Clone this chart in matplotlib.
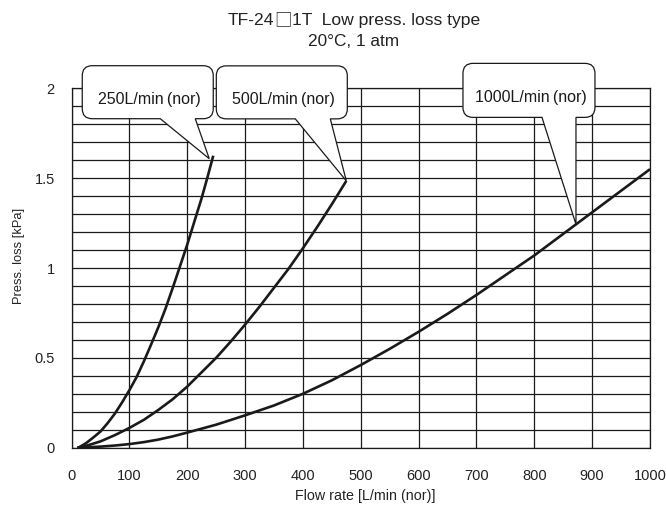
import numpy as np
import matplotlib
matplotlib.use("Agg")
import matplotlib.pyplot as plt
import matplotlib.transforms as mtransforms
from matplotlib.path import Path
from matplotlib.patches import PathPatch
from matplotlib.offsetbox import TextArea, HPacker, AnnotationBbox

# values
flow_250 = [12, 25, 37, 50, 62, 75, 87, 100, 112, 125, 137, 150, 162, 175,
            187, 200, 212, 225, 235, 245]
press_250 = [0, 0.025, 0.055, 0.09, 0.135, 0.19, 0.25, 0.32, 0.39, 0.48, 0.57,
             0.67, 0.77, 0.89, 1.005, 1.13, 1.255, 1.39, 1.505, 1.625]

flow_500 = [10, 25, 50, 75, 100, 125, 150, 175, 200, 225, 250, 275, 300, 325,
            350, 375, 400, 425, 450, 475]
press_500 = [0, 0.01, 0.035, 0.07, 0.11, 0.155, 0.21, 0.27, 0.34, 0.42, 0.50,
             0.59, 0.685, 0.785, 0.89, 0.995, 1.11, 1.23, 1.355, 1.485]

flow_1000 = [10, 25, 50, 75, 100, 125, 150, 175, 200, 250, 300, 350, 400, 450,
             500, 550, 600, 650, 700, 750, 800, 850, 900, 950, 1000]
press_1000 = [0, 0.002, 0.006, 0.012, 0.02, 0.031, 0.045, 0.063, 0.084, 0.128,
              0.18, 0.235, 0.30, 0.375, 0.46, 0.55, 0.645, 0.745, 0.85, 0.96,
              1.07, 1.19, 1.31, 1.43, 1.55]

labels = ["250L/min\u2009(nor)", "500L/min\u2009(nor)", "1000L/min\u2009(nor)"]
label_flow = [245, 475, 872]   # where each callout points

x_ticks = list(range(0, 1001, 100))
y_ticks = [0, 0.5, 1, 1.5, 2]

FONT = ["Liberation Sans", "DejaVu Sans"]
plt.rcParams["font.family"] = FONT
INK = "#1a1a1a"
GREY = "#222222"

# callout shapes in pixels relative to the pointed point:
# left, right, bottom, top, pointer base left, pointer base right, tip dx, tip dy
shapes = [
    (-131, 0, 37, 90, -53, -18, -4, -3),
    (-130, 1, 62, 115, -51, -16, 0, 0),
    (-113, 19, 107, 161, -34, 0, 0, 0),
]


def callout(ax, x, y, shape, text):
    l, r, b, t, b0, b1, tx, ty = shape
    c = 10  # corner radius
    verts = [(b1, b), (tx, ty), (b0, b), (l + c, b), (l, b), (l, b + c),
             (l, t - c), (l, t), (l + c, t), (r - c, t), (r, t), (r, t - c),
             (r, b + c), (r, b), (r - c, b), (b1, b)]
    codes = [Path.MOVETO, Path.LINETO, Path.LINETO, Path.LINETO,
             Path.CURVE3, Path.CURVE3, Path.LINETO, Path.CURVE3, Path.CURVE3,
             Path.LINETO, Path.CURVE3, Path.CURVE3, Path.LINETO,
             Path.CURVE3, Path.CURVE3, Path.CLOSEPOLY]
    dpi = ax.figure.dpi
    verts = [(vx / dpi, vy / dpi) for vx, vy in verts]
    trans = ax.figure.dpi_scale_trans + mtransforms.ScaledTranslation(x, y, ax.transData)
    ax.add_patch(PathPatch(Path(verts, codes), transform=trans, facecolor="white",
                           edgecolor=INK, lw=0.9, clip_on=False, zorder=5))
    ax.text(((l + r) / 2 + 2) / dpi, ((t + b) / 2 - 7) / dpi, text, transform=trans,
            ha="center", va="center", fontsize=11.5, color=INK, zorder=6, clip_on=False)


fig = plt.figure(figsize=(6.66, 5.15), dpi=100)
ax = fig.add_axes([0.1074, 0.1307, 0.8686, 0.6978])

series = [(flow_250, press_250), (flow_500, press_500), (flow_1000, press_1000)]
for fx, py in series:
    ax.plot(fx, py, color=INK, lw=1.9, solid_capstyle="butt", zorder=3)

ax.set_xlim(0, 1000)
ax.set_ylim(0, 2)
ax.set_xticks(x_ticks)
ax.set_yticks(y_ticks)
ax.set_yticks(np.arange(0, 2.01, 0.1), minor=True)
ax.yaxis.set_major_formatter(matplotlib.ticker.FormatStrFormatter("%g"))
ax.grid(True, which="both", color=INK, lw=0.9)
ax.set_axisbelow(True)
ax.tick_params(which="both", length=0, labelsize=10.5, labelcolor=GREY)
ax.tick_params(axis="x", pad=15)
ax.tick_params(axis="y", pad=12)
for s in ax.spines.values():
    s.set_color(INK)
    s.set_linewidth(0.9)

ax.set_xlabel("Flow rate [L/min (nor)]", fontsize=10.3, color=GREY)
ax.xaxis.set_label_coords(0.508, -0.116)
ax.set_ylabel("Press. loss [kPa]", fontsize=9.3, color=GREY)
ax.yaxis.set_label_coords(-0.080, 0.533)

# title: the white square comes from a CJK font so it is full size
tp = dict(fontsize=12.6, color=GREY)
parts = [TextArea("TF-24", textprops=dict(tp, family=FONT)),
         TextArea("\u25a1", textprops=dict(tp, family=["Noto Sans CJK JP"])),
         TextArea("1T  Low press. loss type", textprops=dict(tp, family=FONT))]
title_box = HPacker(children=parts, align="baseline", pad=0, sep=0)
fig.add_artist(AnnotationBbox(title_box, (354 / 666, 1 - 20 / 515),
                              xycoords="figure fraction", frameon=False,
                              box_alignment=(0.5, 0.5)))
fig.text(354 / 666, 1 - 41.5 / 515, "20°C, 1 atm",
         ha="center", va="center", fontsize=12.4, color=GREY)

for (fx, py), lab, lf, shp in zip(series, labels, label_flow, shapes):
    callout(ax, lf, np.interp(lf, fx, py), shp, lab)

fig.savefig("out.png", dpi=100)
